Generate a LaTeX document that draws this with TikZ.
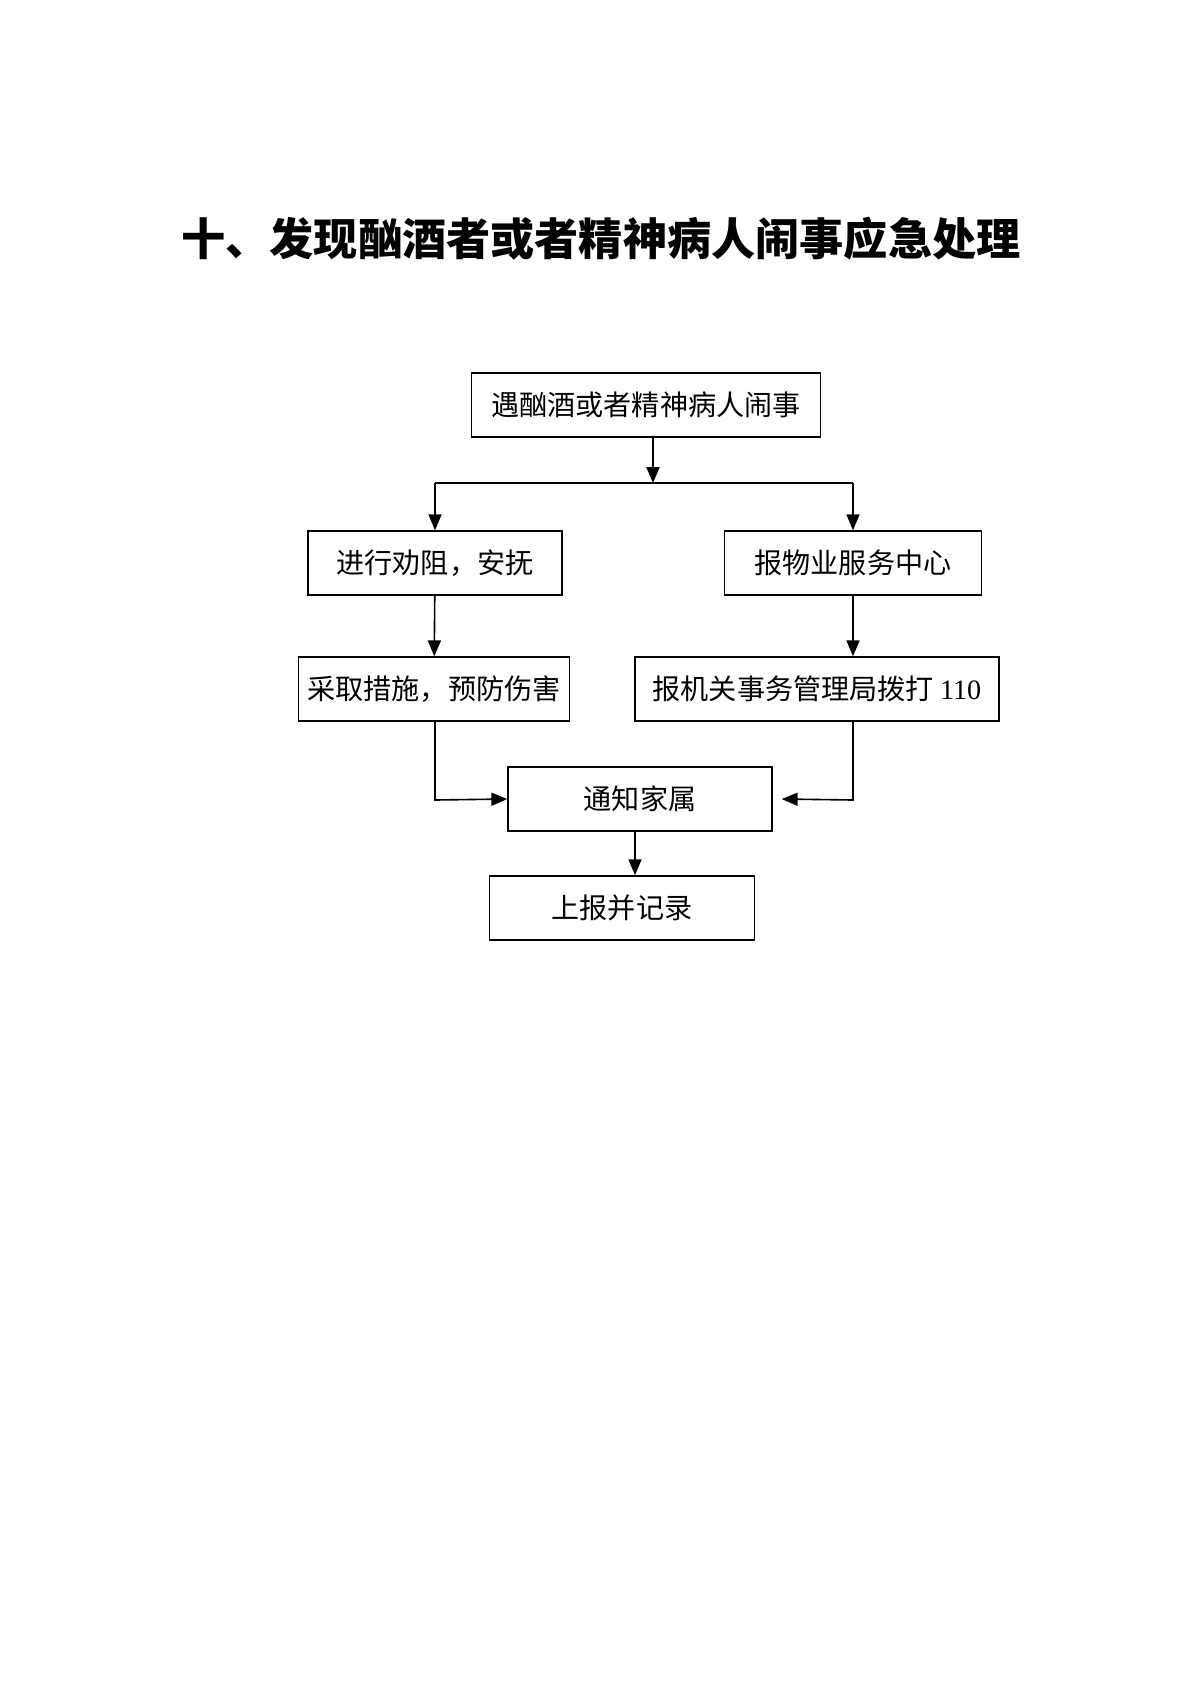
\documentclass[tikz,border=0pt]{standalone}
\usepackage{fontspec}
\setmainfont{Liberation Serif}
\newfontfamily\cjk{Noto Sans CJK SC}
\usetikzlibrary{arrows,positioning,calc}
\tikzstyle{box} = [draw=black,line width=0.8pt,inner sep=0pt,minimum height=64*0.0175cm,font=\cjk\fontsize{14}{16}\selectfont]
\tikzstyle{darrow} = [>=triangle 45,->,line width=0.8pt]
\tikzstyle{line} = [line width=0.8pt]

\begin{document}
\begin{tikzpicture}[x=0.0175cm,y=-0.0175cm]
    \useasboundingbox (0,0) rectangle (1200,1698);
    \node[font=\cjk\bfseries\fontsize{22}{25}\selectfont] (title) at (601,239) {十、发现酗酒者或者精神病人闹事应急处理};

    % boxes
    \node[box,minimum width=349*0.0175cm] (start) at (646,405) {遇酗酒或者精神病人闹事};
    \node[box,minimum width=254*0.0175cm] (calm) at (435,563) {进行劝阻，安抚};
    \node[box,minimum width=257*0.0175cm] (report) at (853,563) {报物业服务中心};
    \node[box,minimum width=271*0.0175cm] (protect) at (434,689) {采取措施，预防伤害};
    \node[box,minimum width=364*0.0175cm] (police) at (817,689) {报机关事务管理局拨打 {\rmfamily 110}};
    \node[box,minimum width=264*0.0175cm] (family) at (640,799) {通知家属};
    \node[box,minimum width=265*0.0175cm] (record) at (622,908) {上报并记录};

    % arrows
    \coordinate (split) at (653,483);
    \coordinate (mid) at (635,0);
    \draw[darrow] (start.south -| split) -- (split);
    \draw[line] (435,483) -- (853,483);
    \draw[darrow] (split -| calm) -- (calm.north);
    \draw[darrow] (split -| report) -- (report.north);
    \draw[darrow] (calm) -- (protect);
    \draw[darrow] (report) -- (report |- police.north);
    \draw[darrow] (protect.south -| calm) -- (435,800) -- (family.west);
    \draw[darrow] (police.south -| report) -- (853,800) -- ($(family.east)+(9,0)$);
    \draw[darrow] (family.south -| mid) -- (record.north -| mid);
\end{tikzpicture}
\end{document}
